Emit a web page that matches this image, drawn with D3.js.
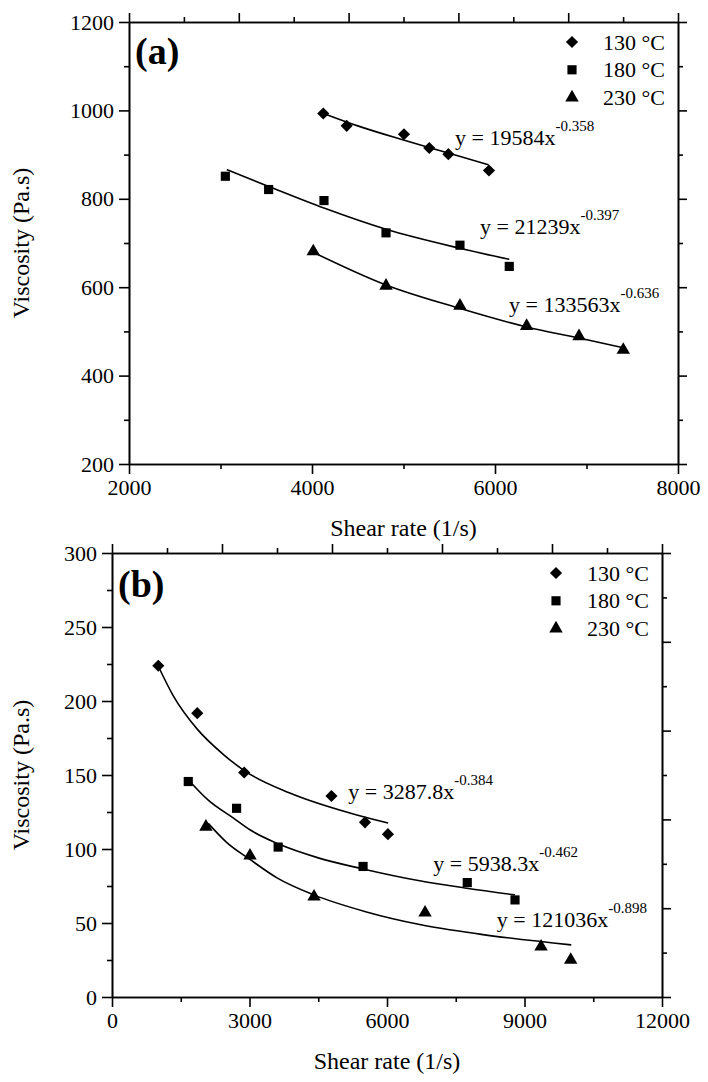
<!DOCTYPE html>
<html>
<head>
<meta charset="utf-8">
<script src="https://cdn.jsdelivr.net/npm/d3@7"></script>
<style>
  body { margin: 0; background: #fff; }
  svg text { font-family: "Liberation Serif", "Times New Roman", serif; fill: #000; }
</style>
</head>
<body>
<div id="container"></div>
<script>
// window size
let cwW = 708;
let cwH = 1082;

/**************************
* Data
**************************/
const seriesNames = ["130 °C", "180 °C", "230 °C"];

// panel (a) measured points
const aRate = [
  [4123, 4379, 5005, 5282, 5490, 5934],
  [3053, 3526, 4131, 4809, 5617, 6156],
  [4014, 4809, 5617, 6346, 6918, 7402]
];
const aVisc = [
  [993, 965, 946, 915, 901, 864],
  [851, 821, 796, 723, 695, 647],
  [681, 603, 558, 512, 489, 458]
];
// panel (a) power-law trend lines
const aFitRate = [
  [4140, 4500, 5000, 5500, 5930],
  [3068, 3526, 4131, 4809, 5617, 6156],
  [4033, 4809, 5617, 6346, 6918, 7402]
];
const aFitVisc = [
  [992, 965, 933, 903, 877],
  [866, 828, 779, 731, 688, 663],
  [677, 605, 552, 510, 485, 463]
];
const aFitText = ["y = 19584x", "y = 21239x", "y = 133563x"];
const aFitExp = ["-0.358", "-0.397", "-0.636"];

// panel (b) measured points
const bRate = [
  [1010, 1860, 2884, 4788, 5520, 6020],
  [1664, 2718, 3625, 5478, 7751, 8793],
  [2049, 3011, 4408, 6830, 9361, 10008]
];
const bVisc = [
  [223.8, 191.8, 151.7, 135.8, 118, 110],
  [145.6, 127.5, 101.3, 88.2, 77.3, 65.6],
  [115, 95.5, 67.8, 57, 34, 25]
];
const bFitRate = [
  [1010, 1337, 1860, 2426, 2884, 3880, 5187, 6024],
  [1690, 2100, 2644, 3008, 3625, 4500, 5478, 6713, 7738, 8793],
  [2100, 2500, 3008, 3600, 4403, 5551, 6713, 8021, 10020]
];
const bFitVisc = [
  [223.5, 203.5, 181, 164, 153, 137.8, 124.3, 117.5],
  [146, 133, 121, 113, 103.5, 94, 86.5, 78.5, 73.5, 69],
  [117.3, 104.5, 93, 80.5, 69, 57.5, 49, 42.5, 35.2]
];
const bFitText = ["y = 3287.8x", "y = 5938.3x", "y = 121036x"];
const bFitExp = ["-0.384", "-0.462", "-0.898"];

// axis ticks
const aXMajor = [2000, 4000, 6000, 8000];
const aXMinor = [3000, 5000, 7000];
const aYMajor = [200, 400, 600, 800, 1000, 1200];
const aYMinor = [300, 500, 700, 900, 1100];
const bXMajor = [0, 3000, 6000, 9000, 12000];
const bXMinor = [1500, 4500, 7500, 10500];
const bYMajor = [0, 50, 100, 150, 200, 250, 300];
const bYMinor = [25, 75, 125, 175, 225, 275];

/**************************
* Layout
**************************/
const layA = {left: 129, right: 678, top: 22, bottom: 464,
              xDomain: [2000, 8000], yDomain: [200, 1200],
              letter: "(a)", letterDy: 42,
              eqAt: [[5563, 921], [5836, 721], [6153, 544]]};
const layB = {left: 112, right: 662, top: 553, bottom: 997,
              xDomain: [0, 12000], yDomain: [0, 300],
              letter: "(b)", letterDy: 44,
              eqAt: [[5156, 134], [7010, 85], [8394, 47.4]]};

let svgArea = d3.select("#container")
  .append("svg")
  .attr("width", cwW)
  .attr("height", cwH);

const fontFam = '"Liberation Serif", "Times New Roman", serif';

// diamond = rotated square
const symbolFor = [
  {type: d3.symbolSquare, size: 74, rot: 45},
  {type: d3.symbolSquare, size: 84, rot: 0},
  {type: d3.symbolTriangle, size: 78, rot: 0}
];

function styleAxis(sel) {
  sel.attr("font-family", fontFam).attr("font-size", 22);
  sel.selectAll("path, line").attr("stroke", "#000").attr("stroke-width", 1.6);
  sel.selectAll("text").attr("fill", "#000");
}

/**************************
* Draw one panel
**************************/
function drawPanel(lay, rate, visc, fitRate, fitVisc, fitText, fitExp, xMajor, xMinor, yMajor, yMinor) {
  let g = svgArea.append("g");

  let x = d3.scaleLinear().domain(lay.xDomain).range([lay.left, lay.right]);
  let y = d3.scaleLinear().domain(lay.yDomain).range([lay.bottom, lay.top]);

  // bottom axis
  g.append("g")
    .attr("transform", `translate(0,${lay.bottom})`)
    .call(d3.axisBottom(x).tickValues(xMajor).tickSize(10).tickPadding(5).tickSizeOuter(0).tickFormat(d3.format("d")))
    .call(styleAxis);
  g.append("g")
    .attr("transform", `translate(0,${lay.bottom})`)
    .call(d3.axisBottom(x).tickValues(xMinor).tickSize(5).tickSizeOuter(0).tickFormat(""))
    .call(styleAxis);

  // left axis
  g.append("g")
    .attr("transform", `translate(${lay.left},0)`)
    .call(d3.axisLeft(y).tickValues(yMajor).tickSize(10).tickPadding(5).tickSizeOuter(0).tickFormat(d3.format("d")))
    .call(styleAxis);
  g.append("g")
    .attr("transform", `translate(${lay.left},0)`)
    .call(d3.axisLeft(y).tickValues(yMinor).tickSize(5).tickSizeOuter(0).tickFormat(""))
    .call(styleAxis);

  // top & right: ten divisions, no labels
  let xTop = d3.scaleLinear().domain([0, 10]).range([lay.left, lay.right]);
  let yRight = d3.scaleLinear().domain([0, 10]).range([lay.top, lay.bottom]);
  let even = d3.range(0, 11, 2), odd = d3.range(1, 10, 2);

  g.append("g")
    .attr("transform", `translate(0,${lay.top})`)
    .call(d3.axisTop(xTop).tickValues(even).tickSize(9).tickSizeOuter(0).tickFormat(""))
    .call(styleAxis);
  g.append("g")
    .attr("transform", `translate(0,${lay.top})`)
    .call(d3.axisTop(xTop).tickValues(odd).tickSize(5).tickSizeOuter(0).tickFormat(""))
    .call(styleAxis);
  g.append("g")
    .attr("transform", `translate(${lay.right},0)`)
    .call(d3.axisRight(yRight).tickValues(even).tickSize(9).tickSizeOuter(0).tickFormat(""))
    .call(styleAxis);
  g.append("g")
    .attr("transform", `translate(${lay.right},0)`)
    .call(d3.axisRight(yRight).tickValues(odd).tickSize(5).tickSizeOuter(0).tickFormat(""))
    .call(styleAxis);

  // axis titles
  g.append("text")
    .attr("x", (lay.left + lay.right) / 2)
    .attr("y", lay.bottom + 72)
    .attr("text-anchor", "middle")
    .attr("font-size", 24)
    .text("Shear rate (1/s)");
  g.append("text")
    .attr("transform", `translate(29,${(lay.top + lay.bottom) / 2}) rotate(-90)`)
    .attr("text-anchor", "middle")
    .attr("font-size", 24)
    .text("Viscosity (Pa.s)");

  // panel letter
  g.append("text")
    .attr("x", lay.left + 6)
    .attr("y", lay.top + lay.letterDy)
    .attr("font-size", 38)
    .attr("font-weight", "bold")
    .text(lay.letter);

  // trend lines
  let line = d3.line()
    .x(d => x(d[0]))
    .y(d => y(d[1]))
    .curve(d3.curveMonotoneX);

  fitRate.forEach(function(xs, i) {
    let pts = xs.map((v, j) => [v, fitVisc[i][j]]);
    g.append("path")
      .attr("d", line(pts))
      .attr("fill", "none")
      .attr("stroke", "#000")
      .attr("stroke-width", 1.6);
  });

  // markers
  rate.forEach(function(xs, i) {
    let s = symbolFor[i];
    g.append("g")
      .selectAll("path")
      .data(xs.map((v, j) => [v, visc[i][j]]))
      .enter()
      .append("path")
      .attr("d", d3.symbol().type(s.type).size(s.size))
      .attr("transform", d => `translate(${x(d[0])},${y(d[1])}) rotate(${s.rot})`)
      .attr("fill", "#000");
  });

  // fit equations
  fitText.forEach(function(t, i) {
    let at = lay.eqAt[i];
    let txt = g.append("text")
      .attr("x", x(at[0]))
      .attr("y", y(at[1]))
      .attr("font-size", 22)
      .text(t);
    txt.append("tspan")
      .attr("dy", -14)
      .attr("font-size", 15)
      .text(fitExp[i]);
  });

  // legend
  seriesNames.forEach(function(name, i) {
    let s = symbolFor[i];
    let ly = lay.top + 20 + i * 27.8;
    g.append("path")
      .attr("d", d3.symbol().type(s.type).size(s.size))
      .attr("transform", `translate(${lay.right - 106},${ly}) rotate(${s.rot})`)
      .attr("fill", "#000");
    g.append("text")
      .attr("x", lay.right - 75)
      .attr("y", ly + 7.5)
      .attr("font-size", 22)
      .text(name);
  });
}

drawPanel(layA, aRate, aVisc, aFitRate, aFitVisc, aFitText, aFitExp, aXMajor, aXMinor, aYMajor, aYMinor);
drawPanel(layB, bRate, bVisc, bFitRate, bFitVisc, bFitText, bFitExp, bXMajor, bXMinor, bYMajor, bYMinor);
</script>
</body>
</html>
